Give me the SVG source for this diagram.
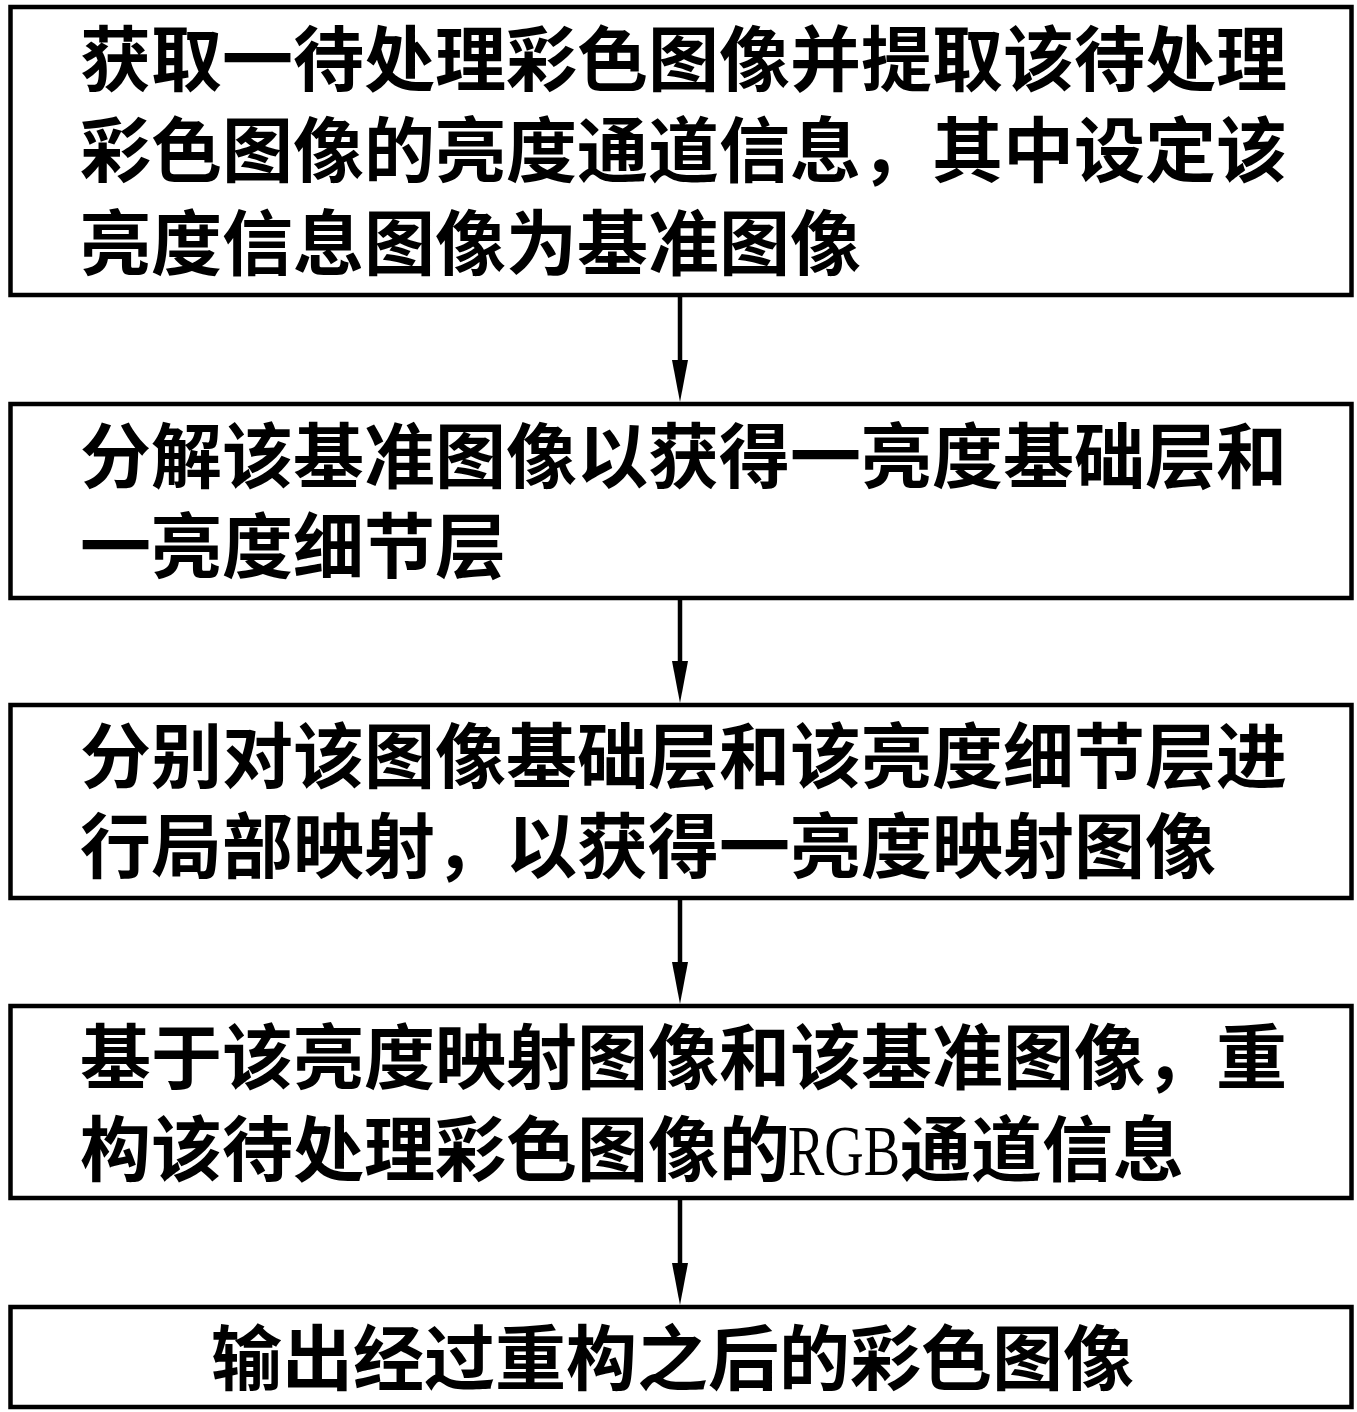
<svg xmlns="http://www.w3.org/2000/svg" width="1357" height="1412" viewBox="0 0 1357 1412">
<defs>
<style>
.box{fill:#fff;stroke:#000;stroke-width:4.5}
.t{font-family:"Noto Sans CJK SC","Noto Sans CJK JP",sans-serif;font-size:71px;font-weight:700;fill:#000}
.lat{font-family:"Liberation Serif",serif;font-weight:400}
.conn line{stroke:#000;stroke-width:4.5}
.conn polygon{fill:#000}
</style>
</defs>
<rect width="1357" height="1412" fill="#fff"/>
<g id="node1">
<rect class="box" x="10.5" y="7" width="1341" height="288"/>
<text class="t" x="80" y="85">获取一待处理彩色图像并提取该待处理</text>
<text class="t" x="80" y="176">彩色图像的亮度通道信息，其中设定该</text>
<text class="t" x="80" y="269">亮度信息图像为基准图像</text>
</g>
<g id="node2">
<rect class="box" x="10.5" y="404" width="1341" height="194"/>
<text class="t" x="80" y="482">分解该基准图像以获得一亮度基础层和</text>
<text class="t" x="80" y="572">一亮度细节层</text>
</g>
<g id="node3">
<rect class="box" x="10.5" y="705" width="1341" height="193"/>
<text class="t" x="80" y="782">分别对该图像基础层和该亮度细节层进</text>
<text class="t" x="80" y="872">行局部映射，以获得一亮度映射图像</text>
</g>
<g id="node4">
<rect class="box" x="10.5" y="1006" width="1341" height="192"/>
<text class="t" x="80" y="1083">基于该亮度映射图像和该基准图像，重</text>
<text class="t" y="1175"><tspan x="80">构该待处理彩色图像的</tspan><tspan class="lat" x="788" textLength="112" lengthAdjust="spacingAndGlyphs">RGB</tspan><tspan x="900">通道信息</tspan></text>
</g>
<g id="node5">
<rect class="box" x="10.5" y="1307" width="1341" height="100"/>
<text class="t" x="211" y="1384">输出经过重构之后的彩色图像</text>
</g>
<g id="connectors" class="conn">
<line x1="680" y1="295" x2="680" y2="362"/>
<polygon points="672,360 688,360 680,402"/>
<line x1="680" y1="598" x2="680" y2="663"/>
<polygon points="672,661 688,661 680,703"/>
<line x1="680" y1="898" x2="680" y2="964"/>
<polygon points="672,962 688,962 680,1004"/>
<line x1="680" y1="1198" x2="680" y2="1265"/>
<polygon points="672,1263 688,1263 680,1305"/>
</g>
</svg>
